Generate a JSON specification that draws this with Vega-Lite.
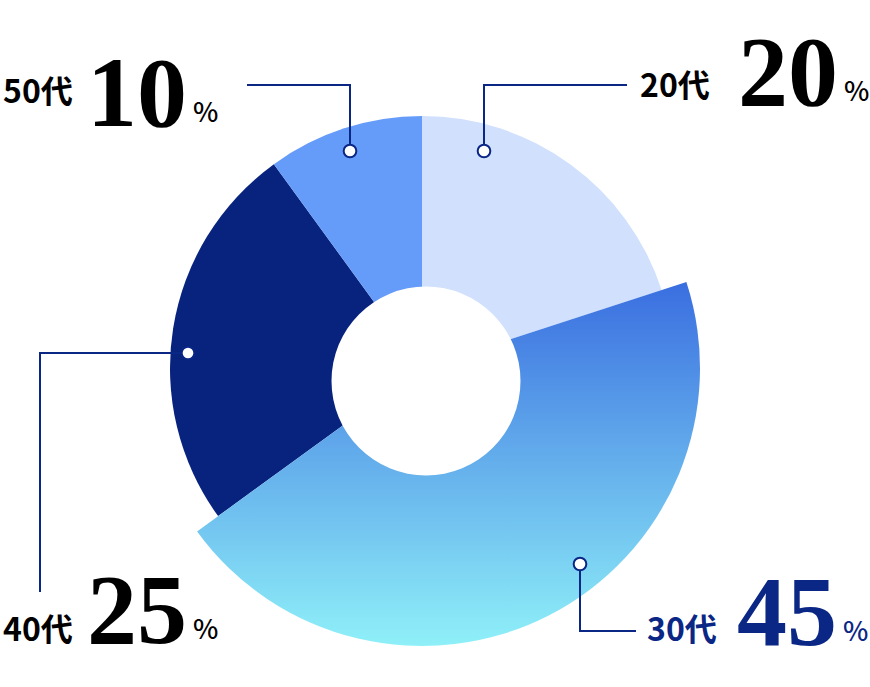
{
  "$schema": "https://vega.github.io/schema/vega-lite/v6.json",
  "width": 844,
  "height": 638,
  "autosize": {"type": "none"},
  "padding": {"left": 0, "top": 49, "right": 26, "bottom": 0},
  "background": "white",
  "config": {"view": {"stroke": null}},
  "datasets": {
    "ages": [
      {"age": "20代", "pct": 20, "order": 1},
      {"age": "30代", "pct": 45, "order": 2},
      {"age": "40代", "pct": 25, "order": 3},
      {"age": "50代", "pct": 10, "order": 4}
    ],
    "leaders": [
      {"age": "50代", "seq": 1, "x": -72, "y": 217},
      {"age": "50代", "seq": 2, "x": -72, "y": 283},
      {"age": "50代", "seq": 3, "x": -175, "y": 283},
      {"age": "20代", "seq": 1, "x": 62, "y": 217},
      {"age": "20代", "seq": 2, "x": 62, "y": 283},
      {"age": "20代", "seq": 3, "x": 205, "y": 283},
      {"age": "40代", "seq": 1, "x": -234, "y": 15},
      {"age": "40代", "seq": 2, "x": -382, "y": 15},
      {"age": "40代", "seq": 3, "x": -382, "y": -224},
      {"age": "30代", "seq": 1, "x": 158, "y": -196},
      {"age": "30代", "seq": 2, "x": 158, "y": -263},
      {"age": "30代", "seq": 3, "x": 214, "y": -263}
    ],
    "dots": [
      {"age": "50代", "x": -72, "y": 217},
      {"age": "20代", "x": 62, "y": 217},
      {"age": "40代", "x": -234, "y": 15},
      {"age": "30代", "x": 158, "y": -196}
    ],
    "callouts": [
      {"age": "50代", "pct": 10, "lx": -419, "ly": 265, "nx": -235, "ny": 242},
      {"age": "20代", "pct": 20, "lx": 218, "ly": 271, "nx": 416, "ny": 263},
      {"age": "40代", "pct": 25, "lx": -419, "ly": -273, "nx": -235, "ny": -275},
      {"age": "30代", "pct": 45, "lx": 225, "ly": -273, "nx": 415, "ny": -277}
    ]
  },
  "layer": [
    {
      "data": {"name": "ages"},
      "transform": [
        {"stack": "pct", "groupby": [], "sort": [{"field": "order"}], "as": ["start", "end"]},
        {"filter": "datum.age !== '30代'"}
      ],
      "mark": {"type": "arc", "radius": 252},
      "encoding": {
        "theta": {"field": "start", "type": "quantitative", "scale": {"domain": [0, 100]}},
        "theta2": {"field": "end"},
        "color": {
          "field": "age",
          "type": "nominal",
          "scale": {"domain": ["20代", "30代", "40代", "50代"], "range": ["#d0e0fd", "#3a6ee0", "#08237e", "#669cf9"]},
          "legend": null
        }
      }
    },
    {
      "data": {"name": "ages"},
      "transform": [
        {"stack": "pct", "groupby": [], "sort": [{"field": "order"}], "as": ["start", "end"]},
        {"filter": "datum.age === '30代'"}
      ],
      "mark": {
        "type": "arc",
        "radius": 278,
        "color": {
          "gradient": "linear",
          "x1": 0, "y1": 0, "x2": 0, "y2": 1,
          "stops": [
            {"offset": 0, "color": "#3a6ee0"},
            {"offset": 1, "color": "#8ff0f8"}
          ]
        }
      },
      "encoding": {
        "theta": {"field": "start", "type": "quantitative", "scale": {"domain": [0, 100]}},
        "theta2": {"field": "end"}
      }
    },
    {
      "data": {"values": [{"hole": "center"}]},
      "mark": {"type": "point", "shape": "circle", "filled": true, "color": "white", "opacity": 1, "size": 35721, "strokeWidth": 0},
      "encoding": {
        "x": {"datum": 4, "type": "quantitative", "scale": {"domain": [-422, 422], "nice": false}, "axis": null},
        "y": {"datum": -13, "type": "quantitative", "scale": {"domain": [-319, 319], "nice": false}, "axis": null}
      }
    },
    {
      "data": {"name": "leaders"},
      "mark": {"type": "line", "color": "#0b2785", "strokeWidth": 2},
      "encoding": {
        "x": {"field": "x", "type": "quantitative", "axis": null},
        "y": {"field": "y", "type": "quantitative", "axis": null},
        "detail": {"field": "age"},
        "order": {"field": "seq", "type": "quantitative"}
      }
    },
    {
      "data": {"name": "dots"},
      "mark": {"type": "point", "shape": "circle", "filled": false, "fill": "white", "stroke": "#0b2785", "strokeWidth": 2, "size": 160, "opacity": 1},
      "encoding": {
        "x": {"field": "x", "type": "quantitative", "axis": null},
        "y": {"field": "y", "type": "quantitative", "axis": null}
      }
    },
    {
      "data": {"name": "callouts"},
      "mark": {"type": "text", "align": "left", "baseline": "alphabetic", "font": "Noto Sans CJK JP", "fontSize": 32, "fontWeight": "bold"},
      "encoding": {
        "x": {"field": "lx", "type": "quantitative", "axis": null},
        "y": {"field": "ly", "type": "quantitative", "axis": null},
        "text": {"field": "age"},
        "color": {"condition": {"test": "datum.age === '30代'", "value": "#0b2785"}, "value": "#000000"}
      }
    },
    {
      "data": {"name": "callouts"},
      "mark": {"type": "text", "align": "right", "baseline": "alphabetic", "font": "Liberation Serif", "fontSize": 100, "fontWeight": "bold"},
      "encoding": {
        "x": {"field": "nx", "type": "quantitative", "axis": null},
        "y": {"field": "ny", "type": "quantitative", "axis": null},
        "text": {"field": "pct"},
        "color": {"condition": {"test": "datum.age === '30代'", "value": "#0b2785"}, "value": "#000000"}
      }
    },
    {
      "data": {"name": "callouts"},
      "mark": {"type": "text", "align": "left", "baseline": "alphabetic", "font": "Noto Sans CJK JP", "fontSize": 27, "fontWeight": 500, "dx": 6, "dy": -4},
      "encoding": {
        "x": {"field": "nx", "type": "quantitative", "axis": null},
        "y": {"field": "ny", "type": "quantitative", "axis": null},
        "text": {"value": "%"},
        "color": {"condition": {"test": "datum.age === '30代'", "value": "#0b2785"}, "value": "#000000"}
      }
    }
  ]
}
